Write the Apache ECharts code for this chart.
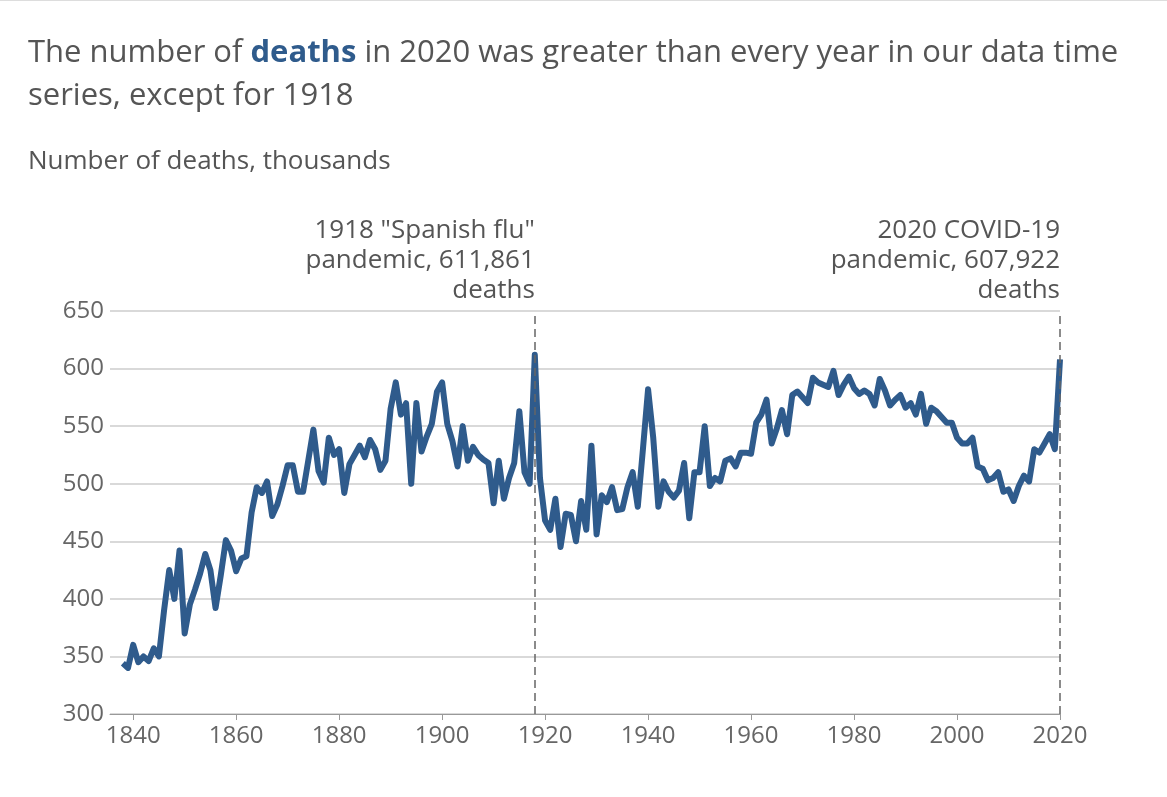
<!DOCTYPE html>
<html>
<head>
<meta charset="utf-8">
<script src="https://cdn.jsdelivr.net/npm/echarts@6/dist/echarts.min.js"></script>
<style>
  html, body { margin: 0; padding: 0; background: #fff; }
  #root { width: 1167px; height: 797px; border-top: 1px solid #ddd; box-sizing: border-box; }
</style>
</head>
<body>
<div id="root"></div>
<script>
const startYear = 1838
// deaths, thousands, one per year from 1838 to 2020
const deaths = [
  344, 340, 360, 345, 350, 346, 357, 350, 390, 425, 400, 442,
  370, 395, 408, 422, 439, 425, 392, 420, 451, 442,
  424, 435, 437, 475, 497, 492, 502, 472, 482, 498,
  516, 516, 493, 493, 520, 547, 511, 501, 540, 525,
  530, 492, 517, 525, 533, 523, 538, 530, 512, 520,
  565, 588, 560, 570, 500, 570, 528, 541, 552, 580,
  588, 552, 537, 515, 550, 520, 532, 525, 521, 518,
  483, 520, 487, 505, 518, 563, 510, 500, 612, 505,
  468, 460, 487, 445, 474, 473, 450, 485, 460, 533,
  456, 490, 484, 497, 477, 478, 497, 510, 480, 530,
  582, 540, 480, 502, 493, 488, 494, 518, 470, 510,
  510, 550, 498, 505, 502, 520, 522, 515, 527, 527,
  526, 553, 560, 573, 535, 548, 564, 543, 577, 580,
  575, 570, 592, 588, 586, 584, 598, 577, 586, 593,
  583, 578, 581, 578, 568, 591, 581, 568, 573, 577,
  566, 570, 560, 578, 552, 566, 563, 558, 553, 553,
  540, 535, 535, 540, 515, 513, 503, 505, 510, 493,
  495, 485, 498, 507, 502, 530, 527, 535, 543, 530,
  608
]
const xTicks = [1840, 1860, 1880, 1900, 1920, 1940, 1960, 1980, 2000, 2020]
const events = [
  { year: 1918, text: '1918 "Spanish flu"\npandemic, 611,861\ndeaths' },
  { year: 2020, text: '2020 COVID-19\npandemic, 607,922\ndeaths' }
]

const points = deaths.map((v, i) => [startYear + i, v])
const chart = echarts.init(document.getElementById('root'))
const font = '"Open Sans", sans-serif'

chart.setOption({
  animation: false,
  textStyle: { fontFamily: font },
  title: [{
    text: 'The number of {b|deaths} in 2020 was greater than every year in our data time\nseries, except for 1918',
    left: 23, top: 26,
    textStyle: {
      fontFamily: font, fontSize: 31, fontWeight: 'normal', color: '#555', lineHeight: 43,
      rich: { b: { fontFamily: font, fontSize: 31, fontWeight: 'bold', color: '#2f5b8c', lineHeight: 43 } }
    }
  }, {
    text: 'Number of deaths, thousands',
    left: 23, top: 143,
    textStyle: { fontFamily: font, fontSize: 26, fontWeight: 'normal', color: '#555' }
  }],
  grid: { left: 110, right: 107, top: 310, bottom: 83 },
  xAxis: {
    type: 'value', min: 1835.5, max: 2020,
    axisLine: { show: true, lineStyle: { color: '#999' } },
    axisTick: { show: true, customValues: xTicks, length: 6, lineStyle: { color: '#999' } },
    axisLabel: { customValues: xTicks, fontSize: 24, color: '#666', margin: 10, formatter: v => String(v) },
    splitLine: { show: false }
  },
  yAxis: {
    type: 'value', min: 300, max: 650, interval: 50,
    axisLabel: { fontSize: 24, color: '#666', margin: 6 },
    splitLine: { lineStyle: { color: '#ccc', width: 1.5 } },
    axisLine: { show: false }, axisTick: { show: false }
  },
  series: [{
    type: 'line', data: points, showSymbol: false,
    lineStyle: { color: '#2f5b8c', width: 6, join: 'round' },
    markLine: {
      silent: true, symbol: 'none',
      lineStyle: { color: '#666', type: [8, 5], width: 1.5 },
      label: {
        position: 'end', align: 'right', fontSize: 26, color: '#555',
        lineHeight: 30, offset: [0, 0], formatter: p => p.data.text
      },
      data: events.map(e => ({ xAxis: e.year, text: e.text }))
    }
  }]
})
</script>
</body>
</html>
